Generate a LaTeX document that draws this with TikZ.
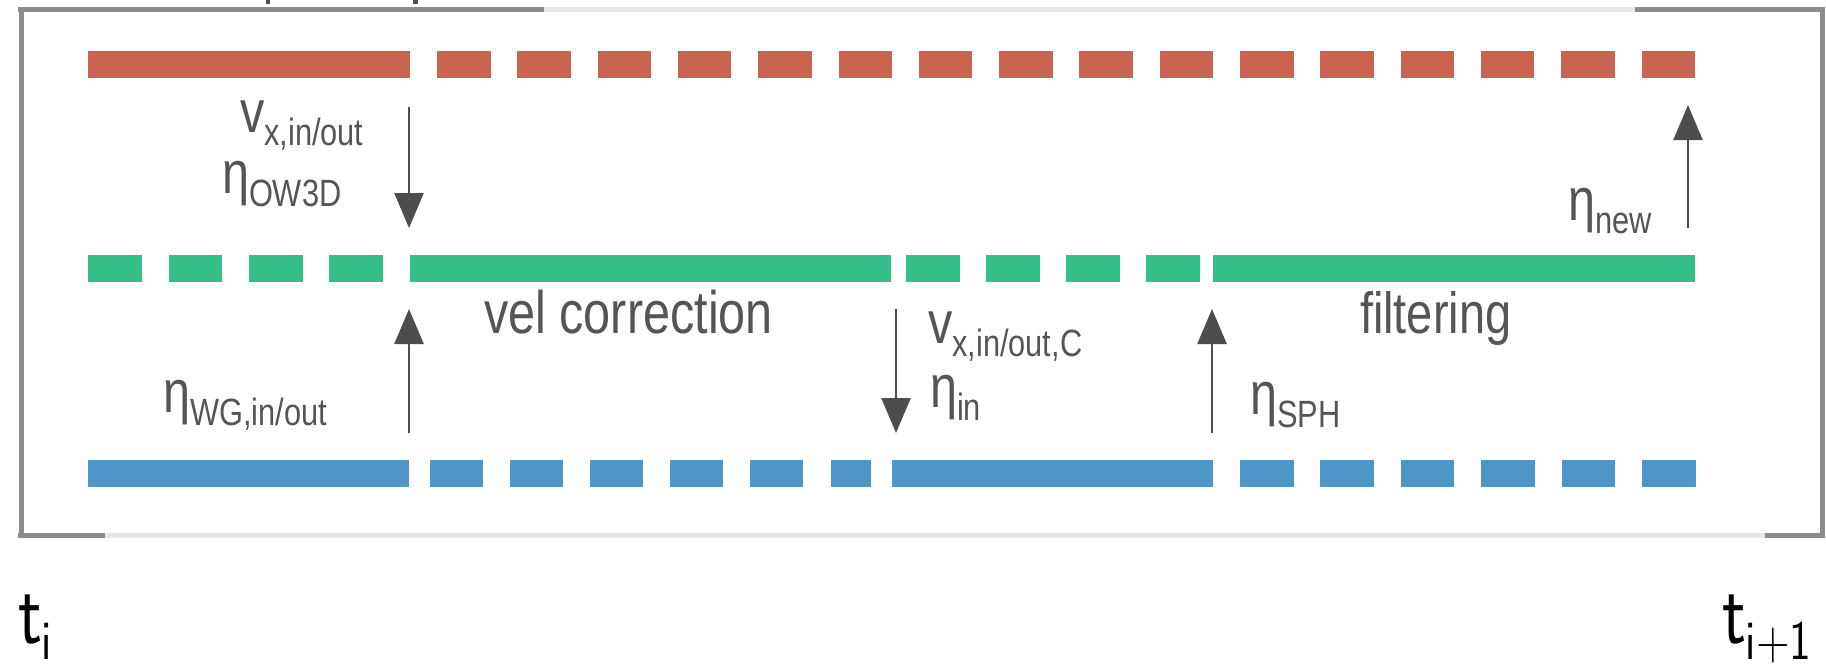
\documentclass[tikz,border=0pt]{standalone}
\usepackage{fontspec}
\setmainfont{Liberation Sans}
\newfontfamily\labfont[FakeStretch=0.81]{Liberation Sans}
\usetikzlibrary{arrows.meta}
\definecolor{barred}{HTML}{C96450}
\definecolor{bargreen}{HTML}{33BF87}
\definecolor{barblue}{HTML}{4F96C8}
\definecolor{arrgray}{HTML}{4D4D4D}
\definecolor{txtgray}{HTML}{555555}
\definecolor{framedark}{HTML}{8C8C8C}
\definecolor{framelight}{HTML}{E6E6E6}
\newcommand{\sublabel}[2]{{\fontsize{60}{60}\selectfont #1}\raisebox{-13pt}{\fontsize{38}{38}\selectfont #2}}
\newcommand{\tlabel}[2]{\scalebox{0.8}[1]{\sffamily\fontsize{88}{88}\selectfont #1}\raisebox{-16pt}{\scalebox{0.82}[1]{\sffamily\fontsize{56}{56}\selectfont #2}}}
\begin{document}
\begin{tikzpicture}[x=1pt,y=-1pt,
  lab/.style={inner sep=0pt, outer sep=0pt, anchor=base west, text=txtgray, font=\labfont},
  tlab/.style={inner sep=0pt, outer sep=0pt, anchor=base west, text=black},
  flow/.style={draw=arrgray, line width=2.5pt, -{Triangle[width=29pt,length=35pt]}},
  framed/.style={draw=framedark, line width=5pt},
  framel/.style={draw=framelight, line width=5pt}]
\useasboundingbox (0,0) rectangle (1826,667);
% frame
\draw[framel] (544,9.5) -- (1635,9.5);
\draw[framel] (105,535) -- (1765,535);
\draw[framed] (18,9.5) -- (544,9.5);
\draw[framed] (1635,9.5) -- (1822,9.5);
\draw[framed] (21,7) -- (21,535) -- (18,535);
\draw[framed] (18,535) -- (105,535);
\draw[framed] (1765,535) -- (1822,535);
\draw[framed] (1822,7) -- (1822,537.5);
% cropped title fragments
\fill[arrgray] (266,0) rectangle (270,4);
\fill[arrgray] (413,0) rectangle (418,4);
% red bar
\fill[barred] (88,50.5) rectangle (410,77.5);
\foreach \k in {0,...,15} \fill[barred] ({437+80.3*\k},50.5) rectangle ++(53.5,27);
% green bar
\foreach \a in {88,168.5,249,329} \fill[bargreen] (\a,255) rectangle ++(53.5,27);
\fill[bargreen] (410,255) rectangle (891,282);
\foreach \a in {906,986,1066,1146} \fill[bargreen] (\a,255) rectangle ++(53.5,27);
\fill[bargreen] (1213,255) rectangle (1695,282);
% blue bar
\fill[barblue] (88,460) rectangle (409,487);
\foreach \a in {430,510,590,670,750} \fill[barblue] (\a,460) rectangle ++(53,27);
\fill[barblue] (831,460) rectangle (871,487);
\fill[barblue] (892,460) rectangle (1213,487);
\foreach \k in {0,...,5} \fill[barblue] ({1240+80.4*\k},460) rectangle ++(53.5,27);
% arrows
\coordinate (a1s) at (409,107);  \coordinate (a1e) at (409,228);
\coordinate (a2s) at (409,433);  \coordinate (a2e) at (409,309);
\coordinate (a3s) at (896,309);  \coordinate (a3e) at (896,433);
\coordinate (a4s) at (1212,433); \coordinate (a4e) at (1212,309);
\coordinate (a5s) at (1688,228); \coordinate (a5e) at (1688,105);
\draw[flow] (a1s) -- (a1e);
\draw[flow] (a2s) -- (a2e);
\draw[flow] (a3s) -- (a3e);
\draw[flow] (a4s) -- (a4e);
\draw[flow] (a5s) -- (a5e);
% labels
\node[lab] (lv1) at (240,132) {\sublabel{v}{x,in/out}};
\node[lab] (le1) at (222,193) {\sublabel{η}{OW3D}};
\node[lab] (le2) at (163,412) {\sublabel{η}{WG,in/out}};
\node[lab] (vc) at (484,333) {\fontsize{60}{60}\selectfont vel correction};
\node[lab] (lv2) at (928,343) {\sublabel{v}{x,in/out,C}};
\node[lab] (le3) at (930,407) {\sublabel{η}{in}};
\node[lab] (le4) at (1250,414) {\sublabel{η}{SPH}};
\node[lab] (filt) at (1360,333) {\fontsize{58}{58}\selectfont filtering};
\node[lab] (le5) at (1568,220) {\sublabel{η}{new}};
\node[tlab] (ti) at (18,643) {\tlabel{t}{i}};
\node[tlab] (ti1) at (1722,643) {\tlabel{t}{i+1}};
\end{tikzpicture}
\end{document}
